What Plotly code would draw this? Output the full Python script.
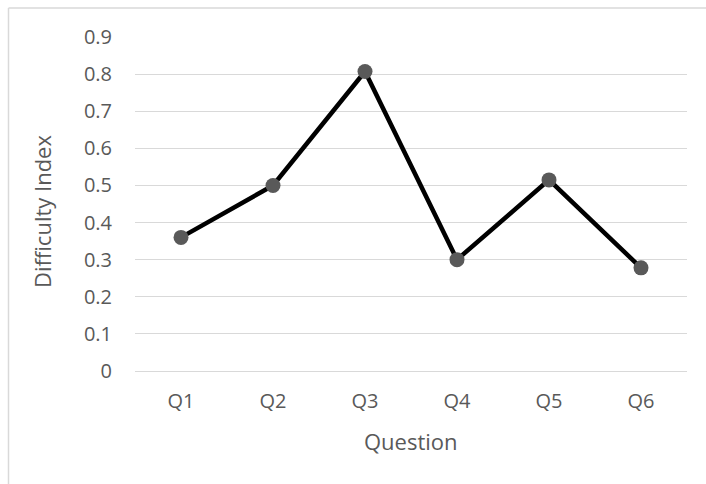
import plotly.graph_objects as go

questions = ["Q1", "Q2", "Q3", "Q4", "Q5", "Q6"]
difficulty = [0.36, 0.50, 0.807, 0.30, 0.515, 0.278]
y_ticks = [0, 0.1, 0.2, 0.3, 0.4, 0.5, 0.6, 0.7, 0.8, 0.9]
y_tick_text = ["0", "0.1", "0.2", "0.3", "0.4", "0.5", "0.6", "0.7", "0.8", "0.9"]
x_title = "Question"
y_title = "Difficulty Index"

W, H = 706, 484
L, R, T, B = 135, 19, 37, 113
text_color = "#595959"
grid_color = "#d9d9d9"
font_family = "Open Sans, Noto Sans, sans-serif"

fig = go.Figure(
    go.Scatter(
        x=questions,
        y=difficulty,
        mode="lines+markers",
        line=dict(color="#000000", width=4.5),
        marker=dict(color="#595959", size=15),
        showlegend=False,
        hoverinfo="x+y",
    )
)

pw, ph = W - L - R, H - T - B

# chart frame (top and left edges visible)
fx0 = (8.5 - L) / pw
fy1 = (H - B - 8) / ph
fig.add_shape(type="line", xref="paper", yref="paper", x0=fx0, x1=2, y0=fy1, y1=fy1,
              line=dict(color=grid_color, width=1.5))
fig.add_shape(type="line", xref="paper", yref="paper", x0=fx0, x1=fx0, y0=-2, y1=fy1,
              line=dict(color=grid_color, width=1.5))

# axis titles
fig.add_annotation(text=x_title, xref="paper", yref="paper", x=0.5, y=-70 / ph,
                   xanchor="center", yanchor="middle", showarrow=False,
                   font=dict(size=22, color=text_color))
fig.add_annotation(text=y_title, xref="paper", yref="paper", x=(42 - L) / pw, y=(H - B - 212) / ph,
                   xanchor="center", yanchor="middle", textangle=-90, showarrow=False,
                   font=dict(size=22, color=text_color))

fig.update_layout(
    width=W,
    height=H,
    margin=dict(l=L, r=R, t=T, b=B),
    paper_bgcolor="white",
    plot_bgcolor="white",
    font=dict(family=font_family, size=20, color=text_color),
    xaxis=dict(
        type="category",
        range=[-0.5, 5.5],
        showgrid=False,
        showline=False,
        zeroline=False,
        ticks="",
        ticklabelstandoff=16,
        tickfont=dict(size=20, color=text_color),
    ),
    yaxis=dict(
        range=[0, 0.9],
        tickvals=y_ticks,
        ticktext=y_tick_text,
        showgrid=True,
        gridcolor=grid_color,
        gridwidth=1.2,
        zeroline=True,
        zerolinecolor=grid_color,
        zerolinewidth=1.2,
        showline=False,
        ticks="",
        ticklabelstandoff=22,
        tickfont=dict(size=20, color=text_color),
    ),
)

fig.write_html("out.html")
